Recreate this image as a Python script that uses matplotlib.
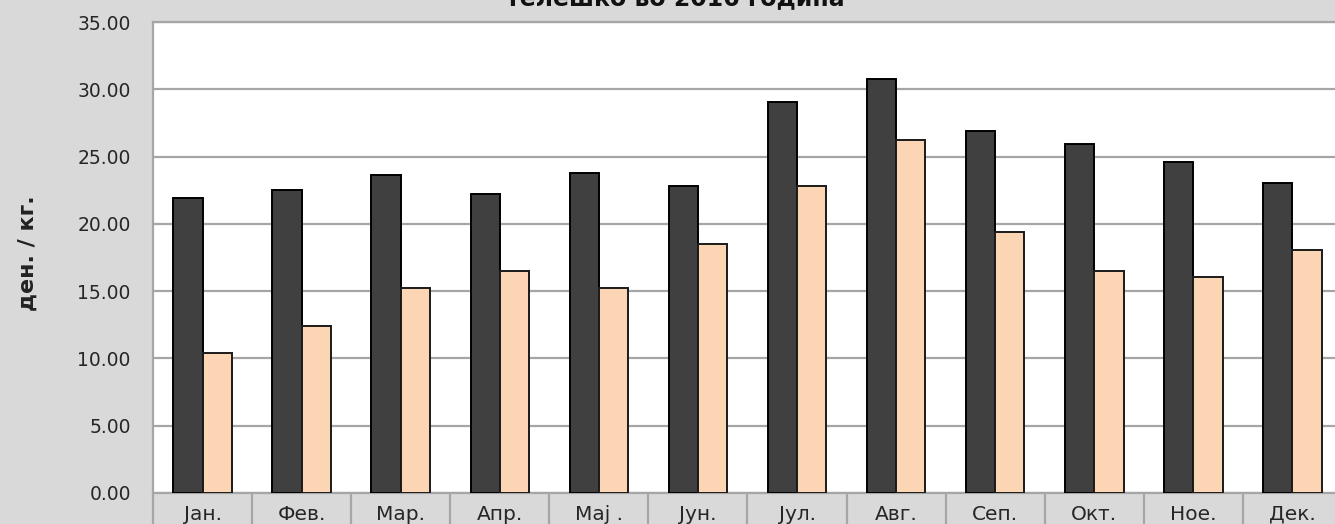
import numpy as np
import matplotlib
matplotlib.use("Agg")
import matplotlib.pyplot as plt
import matplotlib.transforms as mtransforms

# месеци и цени (ден./кг.)
meseci = ['Јан.', 'Фев.', 'Мар.', 'Апр.', 'Мај .', 'Јун.',
          'Јул.', 'Авг.', 'Сеп.', 'Окт.', 'Ное.', 'Дек.']
serija_1 = [21.95, 22.50, 23.62, 22.20, 23.75, 22.78,
            29.03, 30.73, 26.90, 25.92, 24.62, 23.05]
serija_2 = [10.42, 12.40, 15.22, 16.52, 15.22, 18.50,
            22.78, 26.20, 19.38, 16.52, 16.08, 18.07]
naslov = 'телешко во 2016 година'
y_oznaka = 'ден. / кг.'

W, H = 1335, 524
fig = plt.figure(figsize=(W / 100, H / 100), dpi=100)
fig.patch.set_facecolor('#d9d9d9')

left, right, top, bottom = 153, 1342, 22, 493
ax = fig.add_axes([left / W, (H - bottom) / H, (right - left) / W, (bottom - top) / H])
ax.set_facecolor('white')

x = np.arange(len(meseci))
w = 0.295
ax.bar(x - w / 2, serija_1, w, color='#404040', edgecolor='black', linewidth=1.4, zorder=3)
ax.bar(x + w / 2, serija_2, w, color='#fcd5b4', edgecolor='#1a1a1a', linewidth=1.4, zorder=3)

ax.set_xlim(-0.5, len(meseci) - 0.5)
ax.set_ylim(0, 35)
ax.set_yticks(np.arange(0, 36, 5))
ax.set_yticklabels(['%.2f' % v for v in np.arange(0, 36, 5)], fontsize=13.5, color='#262626')
ax.tick_params(axis='y', length=0, pad=16)
ax.set_xticks([])
ax.grid(axis='y', color='#a6a6a6', linewidth=1.6, zorder=0)
for s in ax.spines.values():
    s.set_color('#a6a6a6')
    s.set_linewidth(1.6)

# табела со месеци под графикот
trans = mtransforms.blended_transform_factory(ax.transData, ax.transAxes)
ax.vlines(np.arange(-0.5, len(meseci)), -0.1, 0, transform=trans,
          color='#a6a6a6', linewidth=1.6, clip_on=False)
for i, m in enumerate(meseci):
    ax.text(i, -0.045, m, transform=trans, ha='center', va='center',
            fontsize=14.5, color='#262626')

fig.text(28 / W, 1 - 253 / H, y_oznaka, rotation=90, ha='center', va='center',
         fontsize=16, fontweight='bold', color='#222222')
fig.text(675 / W, 1 - 5 / H, naslov, ha='center', va='baseline',
         fontsize=17, fontweight='bold', color='#111111')

fig.savefig('out.png', dpi=100, facecolor=fig.get_facecolor())
